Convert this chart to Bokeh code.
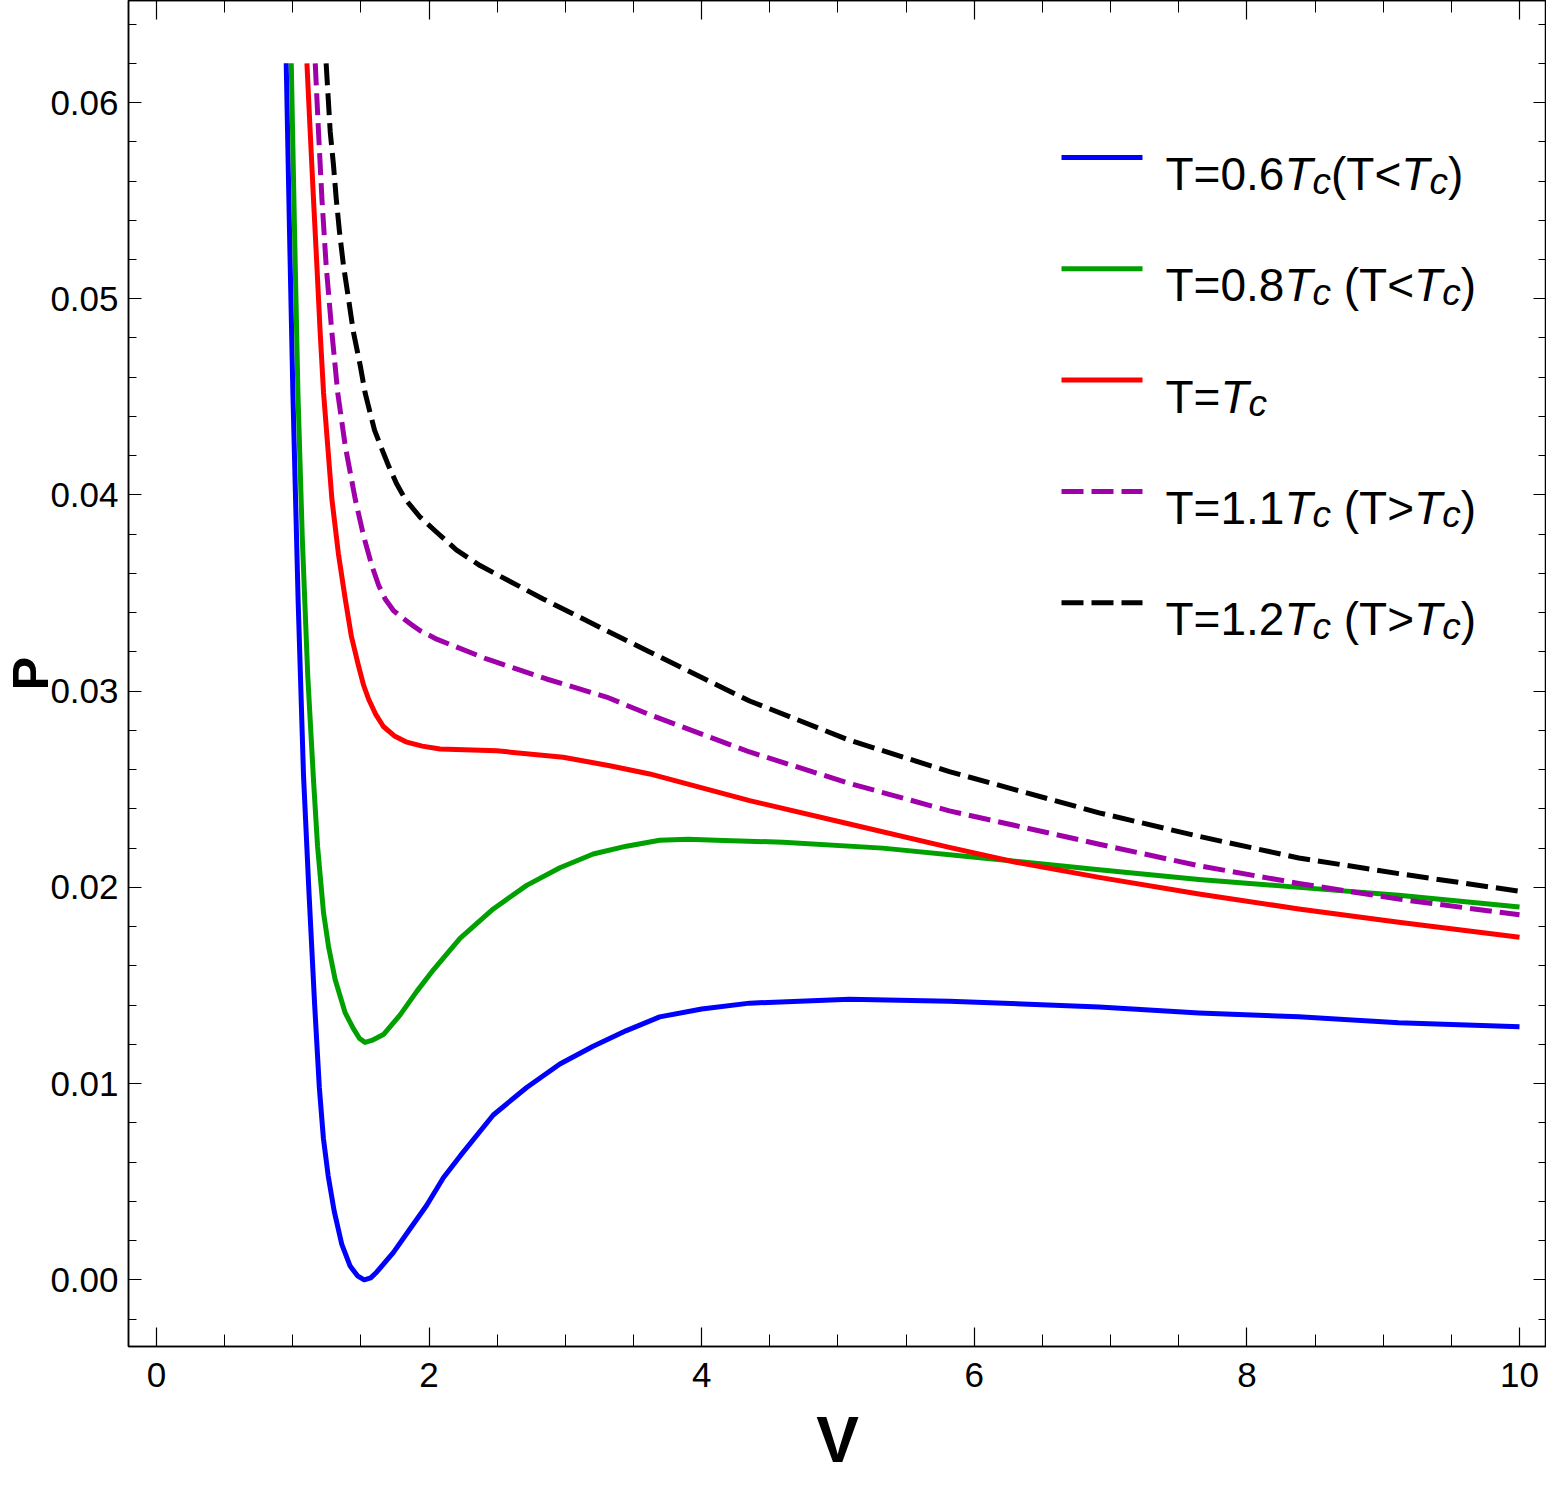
from bokeh.plotting import figure
from bokeh.models import (Range1d, LinearAxis, SingleIntervalTicker, CustomJSTickFormatter,
                          NumeralTickFormatter, ColumnDataSource)
from bokeh.core.properties import value
from bokeh.embed import file_html
from bokeh.resources import INLINE

# ---------------- data ----------------
v_06 = [0.952, 0.976, 1.001, 1.04, 1.079, 1.12, 1.16, 1.195, 1.225, 1.26, 1.304, 1.36, 1.421, 1.475,
        1.524, 1.572, 1.617, 1.739, 1.861, 1.983, 2.105, 2.227, 2.471, 2.716, 2.96, 3.204, 3.448,
        3.692, 4.0, 4.352, 5.084, 5.817, 6.916, 7.648, 8.381, 9.114, 10.0]
p_06 = [0.0620, 0.0535, 0.0452, 0.0345, 0.0257, 0.0196, 0.0141, 0.0098, 0.0072, 0.0053, 0.0035,
        0.0018, 0.0007, 0.0002, 0.0000, 0.0001, 0.0004, 0.0014, 0.0026, 0.0038, 0.0052, 0.0063,
        0.0084, 0.0098, 0.0110, 0.0119, 0.0127, 0.0134, 0.0138, 0.0141, 0.0143, 0.0142, 0.0139,
        0.0136, 0.0134, 0.0131, 0.0129]

v_08 = [0.989, 1.013, 1.038, 1.07, 1.11, 1.152, 1.182, 1.226, 1.262, 1.311, 1.385, 1.445, 1.49,
        1.531, 1.58, 1.665, 1.788, 1.91, 2.032, 2.227, 2.471, 2.716, 2.96, 3.204, 3.448, 3.692,
        3.9, 4.108, 4.597, 5.328, 6.06, 6.916, 7.648, 8.381, 9.114, 10.0]
p_08 = [0.0620, 0.0535, 0.0452, 0.0378, 0.0308, 0.0255, 0.0221, 0.0187, 0.0170, 0.0153, 0.0136,
        0.0128, 0.0123, 0.0121, 0.0122, 0.0125, 0.0135, 0.0147, 0.0158, 0.0174, 0.0189, 0.0201,
        0.0210, 0.0217, 0.0221, 0.0224, 0.02245, 0.0224, 0.0223, 0.0220, 0.0215, 0.0209, 0.0204,
        0.0200, 0.0196, 0.0190]

v_10 = [1.104, 1.128, 1.152, 1.177, 1.201, 1.226, 1.287, 1.335, 1.385, 1.43, 1.482, 1.52, 1.556,
        1.61, 1.665, 1.75, 1.837, 1.95, 2.081, 2.496, 2.984, 3.326, 3.619, 4.352, 5.084, 5.817,
        6.305, 6.916, 7.648, 8.381, 9.114, 10.0]
p_10 = [0.0620, 0.0585, 0.0551, 0.0517, 0.0483, 0.0452, 0.0398, 0.0370, 0.0347, 0.0328, 0.0313,
        0.0303, 0.0296, 0.0288, 0.0282, 0.0277, 0.0274, 0.0272, 0.02705, 0.02696, 0.02663, 0.0262,
        0.02578, 0.02442, 0.02323, 0.02204, 0.02128, 0.02051, 0.01966, 0.0189, 0.01822, 0.01746]

v_11 = [1.165, 1.189, 1.214, 1.245, 1.287, 1.33, 1.385, 1.458, 1.52, 1.58, 1.63, 1.678, 1.74,
        1.812, 1.87, 1.93, 2.056, 2.423, 2.862, 3.302, 3.619, 4.352, 5.084, 5.817, 6.916, 7.648,
        8.381, 9.114, 10.0]
p_11 = [0.0620, 0.0585, 0.0551, 0.0517, 0.0483, 0.0452, 0.0425, 0.0398, 0.0379, 0.0364, 0.0354,
        0.0347, 0.0341, 0.0337, 0.0334, 0.0331, 0.03265, 0.03164, 0.03062, 0.0297, 0.0288, 0.0269,
        0.0253, 0.0239, 0.0222, 0.0211, 0.0202, 0.0194, 0.0186]

v_12 = [1.245, 1.275, 1.299, 1.319, 1.343, 1.372, 1.409, 1.445, 1.495, 1.531, 1.60, 1.65, 1.702,
        1.76, 1.824, 1.93, 2.056, 2.2, 2.374, 2.837, 3.326, 3.619, 4.352, 5.084, 5.817, 6.916,
        7.648, 8.381, 9.114, 10.0]
p_12 = [0.0620, 0.0585, 0.0568, 0.0551, 0.0534, 0.0517, 0.0500, 0.0483, 0.0466, 0.0452, 0.0433,
        0.0424, 0.0415, 0.0406, 0.0398, 0.0389, 0.0381, 0.0372, 0.0364, 0.0347, 0.0330, 0.0320,
        0.0295, 0.0275, 0.0259, 0.0238, 0.0226, 0.0215, 0.0207, 0.0198]

series_names = ["T=0.6Tc", "T=0.8Tc", "T=Tc", "T=1.1Tc", "T=1.2Tc"]
series_v = [v_06, v_08, v_10, v_11, v_12]
series_p = [p_06, p_08, p_10, p_11, p_12]
colors = ["#0000ff", "#00a000", "#ff0000", "#a000aa", "#000000"]
dashes = ["solid", "solid", "solid", "22 8", "22 8"]

# legend text fragments: (text, style) ; n=normal, i=italic, s=italic subscript
legend_rows = [
    [("T=0.6", "n"), ("T", "i"), ("c", "s"), ("(T<", "n"), ("T", "i"), ("c", "s"), (")", "n")],
    [("T=0.8", "n"), ("T", "i"), ("c", "s"), (" (T<", "n"), ("T", "i"), ("c", "s"), (")", "n")],
    [("T=", "n"), ("T", "i"), ("c", "s")],
    [("T=1.1", "n"), ("T", "i"), ("c", "s"), (" (T>", "n"), ("T", "i"), ("c", "s"), (")", "n")],
    [("T=1.2", "n"), ("T", "i"), ("c", "s"), (" (T>", "n"), ("T", "i"), ("c", "s"), (")", "n")],
]

# ---------------- layout ----------------
X_LO, X_HI = -0.205, 10.198
Y_LO, Y_HI = -0.0034, 0.0652
FRAME_L, FRAME_W = 128, 1418
FRAME_T, FRAME_H = 1, 1346
FRAME_B = FRAME_T + FRAME_H

def xd(px):
    return X_LO + (px - FRAME_L) / FRAME_W * (X_HI - X_LO)

def yd(py):
    return Y_LO + (FRAME_B - py) / FRAME_H * (Y_HI - Y_LO)

FONT = "Liberation Sans"
# Arial/Liberation Sans advance widths (per 1000 em) for legend layout
ADV = {"T": 611, "=": 584, ".": 278, "(": 333, ")": 333, "<": 584, ">": 584, "c": 500, " ": 278}
for d_ in "0123456789":
    ADV[d_] = 556

def text_w(t, size):
    return sum(ADV[ch] for ch in t) * size / 1000.0

MAIN_SIZE = 46
SUB_SIZE = 37
LEG_TEXT_X = 1165
LEG_LINE_X0, LEG_LINE_X1 = 1061, 1142
LEG_ROW0, LEG_ROW_STEP = 158, 111.3

p = figure(frame_width=FRAME_W, frame_height=FRAME_H,
           x_range=Range1d(X_LO, X_HI), y_range=Range1d(Y_LO, Y_HI),
           output_backend="svg", toolbar_location=None,
           min_border_left=122, min_border_right=0, min_border_top=0, min_border_bottom=10)
p.xgrid.visible = False
p.ygrid.visible = False
p.outline_line_color = "black"
p.outline_line_width = 1.5
p.background_fill_color = "white"
p.border_fill_color = "white"

xax = p.below[0]
yax = p.left[0]
xax.ticker = SingleIntervalTicker(interval=2, num_minor_ticks=4)
yax.ticker = SingleIntervalTicker(interval=0.01, num_minor_ticks=5)
yax.formatter = NumeralTickFormatter(format="0.00")

top_ax = LinearAxis(ticker=SingleIntervalTicker(interval=2, num_minor_ticks=4),
                    formatter=CustomJSTickFormatter(code="return ''"))
right_ax = LinearAxis(ticker=SingleIntervalTicker(interval=0.01, num_minor_ticks=5),
                      formatter=CustomJSTickFormatter(code="return ''"))
p.add_layout(top_ax, "above")
p.add_layout(right_ax, "right")

for ax in [xax, top_ax]:
    ax.major_tick_in = 19
    ax.major_tick_out = 0
    ax.minor_tick_in = 12
    ax.minor_tick_out = 0
for ax in [yax, right_ax]:
    ax.major_tick_in = 13
    ax.major_tick_out = 0
    ax.minor_tick_in = 8
    ax.minor_tick_out = 0
for ax in [xax, top_ax, yax, right_ax]:
    ax.axis_line_width = 1.5
    ax.axis_line_color = "black"
    ax.major_tick_line_color = "black"
    ax.minor_tick_line_color = "black"
    ax.major_tick_line_width = 1.2
    ax.minor_tick_line_width = 1
    ax.major_label_text_font = FONT
    ax.major_label_text_font_size = "35px"
    ax.major_label_text_color = "black"
top_ax.major_label_standoff = 0
right_ax.major_label_standoff = 0
top_ax.major_label_text_font_size = "1px"
right_ax.major_label_text_font_size = "1px"

xax.major_label_standoff = 16
yax.major_label_standoff = 10
xax.axis_label = "V"
xax.axis_label_text_font = FONT
xax.axis_label_text_font_size = "64px"
xax.axis_label_text_font_style = "bold"
xax.axis_label_text_color = "black"
xax.axis_label_standoff = 14
yax.axis_label = "P"
yax.axis_label_text_font = FONT
yax.axis_label_text_font_size = "50px"
yax.axis_label_text_font_style = "bold"
yax.axis_label_text_color = "black"
yax.axis_label_standoff = -12

for name, vv, pp, c, d in zip(series_names, series_v, series_p, colors, dashes):
    src = ColumnDataSource(dict(V=vv, P=pp))
    p.line("V", "P", source=src, line_color=c, line_width=5, line_dash=d,
           line_join="round")

# legend samples
for i, (c, d) in enumerate(zip(colors, dashes)):
    py = LEG_ROW0 + i * LEG_ROW_STEP
    p.line([xd(LEG_LINE_X0), xd(LEG_LINE_X1)], [yd(py), yd(py)], line_color=c, line_width=5,
           line_dash=d)

# legend text, laid out fragment by fragment
frags = {"n": ([], [], []), "i": ([], [], []), "s": ([], [], [])}
for i, row in enumerate(legend_rows):
    base = LEG_ROW0 + i * LEG_ROW_STEP + 16.5
    px = LEG_TEXT_X
    for t, s in row:
        size = SUB_SIZE if s == "s" else MAIN_SIZE
        if t.startswith(" "):
            px += text_w(" ", size)
            t = t.strip()
        xs, ys, ts = frags[s]
        xs.append(xd(px))
        ys.append(yd(base + (7 if s == "s" else 0)))
        ts.append(t)
        px += text_w(t, size)
styles = {"n": (MAIN_SIZE, "normal"), "i": (MAIN_SIZE, "italic"), "s": (SUB_SIZE, "italic")}
for key, (size, fstyle) in styles.items():
    xs, ys, ts = frags[key]
    p.text(x=xs, y=ys, text=ts, text_font=value(FONT), text_font_size=f"{size}px",
           text_font_style=fstyle, text_color="black",
           text_align="left", text_baseline="alphabetic")

open("out.html", "w").write(file_html(p, INLINE))
